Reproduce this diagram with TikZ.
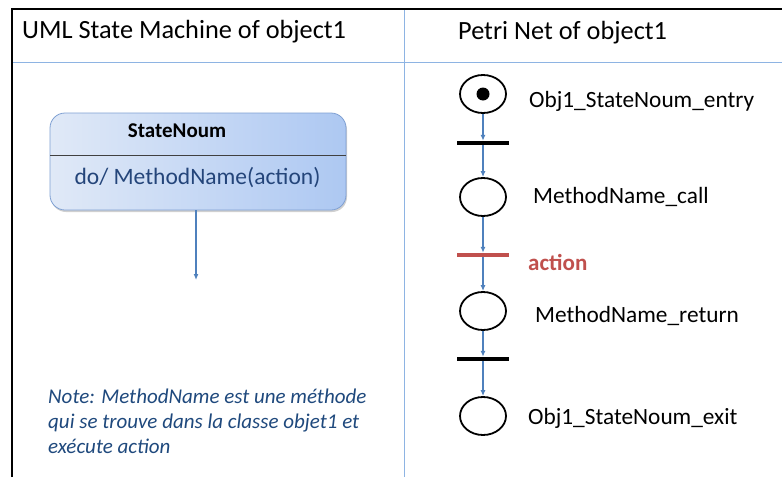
\documentclass[tikz,border=0pt]{standalone}
\usepackage{fontspec}
\setmainfont{Carlito}
\usetikzlibrary{shapes.geometric,arrows.meta,shadows}
\definecolor{frameblue}{HTML}{8EB4E3}
\definecolor{arrowblue}{HTML}{4F81BD}
\definecolor{navytext}{HTML}{24457A}
\definecolor{notecol}{HTML}{1F497D}
\definecolor{redtrans}{HTML}{C0504D}
\definecolor{boxborder}{HTML}{7FA0D3}
\definecolor{boxleft}{HTML}{E0E9F7}
\definecolor{boxright}{HTML}{ADC8F2}
\begin{document}
\begin{tikzpicture}[x=1pt,y=-1pt,
  place/.style={ellipse, draw=black, line width=1.8pt, minimum width=46pt, minimum height=38pt, inner sep=0pt},
  trans/.style={rectangle, fill=black, minimum width=52pt, minimum height=4pt, inner sep=0pt},
  flow/.style={draw=arrowblue, line width=1.2pt, -{Latex[length=6pt,width=5pt]}},
  lbl/.style={anchor=base west, inner sep=0pt, font=\fontsize{23.3}{28}\selectfont},
  header/.style={anchor=base west, inner sep=0pt, font=\fontsize{26.3}{31}\selectfont},
  notetext/.style={anchor=base west, inner sep=0pt, text=notecol, font=\itshape\fontsize{21}{25}\selectfont},
  frameline/.style={draw=frameblue, line width=1pt}
]
\useasboundingbox (0,0) rectangle (782,477);
\fill[white] (0,0) rectangle (782,477);

% frame
\draw[frameline] (404,9) -- (404,477);
\draw[frameline] (13,62) -- (782,62);
\draw[black, line width=2.2pt] (12,477) -- (12,9) -- (782,9);

% headers
\node[header] (h1) at (22,38.3) {UML State Machine of object1};
\node[header] (h2) at (458,39) {Petri Net of object1};

% UML state
\node[draw=boxborder, line width=0.8pt, rounded corners=15pt, minimum width=296pt, minimum height=97pt,
      left color=boxleft, right color=boxright,
      drop shadow={shadow xshift=1pt, shadow yshift=-2pt, opacity=0.3, fill=black!60}] (box) at (198,161.5) {};
\draw[black!75, line width=0.8pt] (50,155) -- (346,155);
\node[anchor=base, inner sep=0pt, font=\bfseries\fontsize{21}{25}\selectfont] (title) at (177,137.3) {StateNoum};
\node[anchor=base, inner sep=0pt, text=navytext, font=\fontsize{23.5}{28}\selectfont] (act) at (197.5,184.5) {do/ MethodName(action)};
\coordinate (aend) at (196,280);
\draw[flow] (box.south -| aend) -- (aend);

% note
\node[notetext] (n1) at (48,403.3) {Note: MethodName est une méthode};
\node[notetext] (n2) at (48,428.3) {qui se trouve dans la classe objet1 et};
\node[notetext] (n3) at (48,453.3) {exécute action};

% Petri net
\node[place] (p1) at (483,94) {};
\node[circle, fill=black, minimum size=13pt, inner sep=0pt] (tok) at (p1) {};
\node[trans] (t1) at (483,143) {};
\node[place] (p2) at (483,197) {};
\node[trans, fill=redtrans] (t2) at (483,255) {};
\node[place] (p3) at (483,311) {};
\node[trans] (t3) at (483,359) {};
\node[place] (p4) at (483,416) {};

\draw[flow] (p1) -- (t1.north);
\draw[flow] (t1.south) -- (p2.north);
\draw[flow] (p2) -- (t2.north);
\draw[flow] (t2.south) -- (p3.north);
\draw[flow] (p3) -- (t3.north);
\draw[flow] (t3.south) -- (p4.north);

\node[lbl] (l1) at (529,107.3) {Obj1\_StateNoum\_entry};
\node[lbl] (l2) at (533,203.3) {MethodName\_call};
\node[lbl, text=redtrans, font=\bfseries\fontsize{23}{28}\selectfont] (l2b) at (528,270) {action};
\node[lbl] (l3) at (535,322.7) {MethodName\_return};
\node[lbl] (l4) at (528,424.3) {Obj1\_StateNoum\_exit};
\end{tikzpicture}
\end{document}
